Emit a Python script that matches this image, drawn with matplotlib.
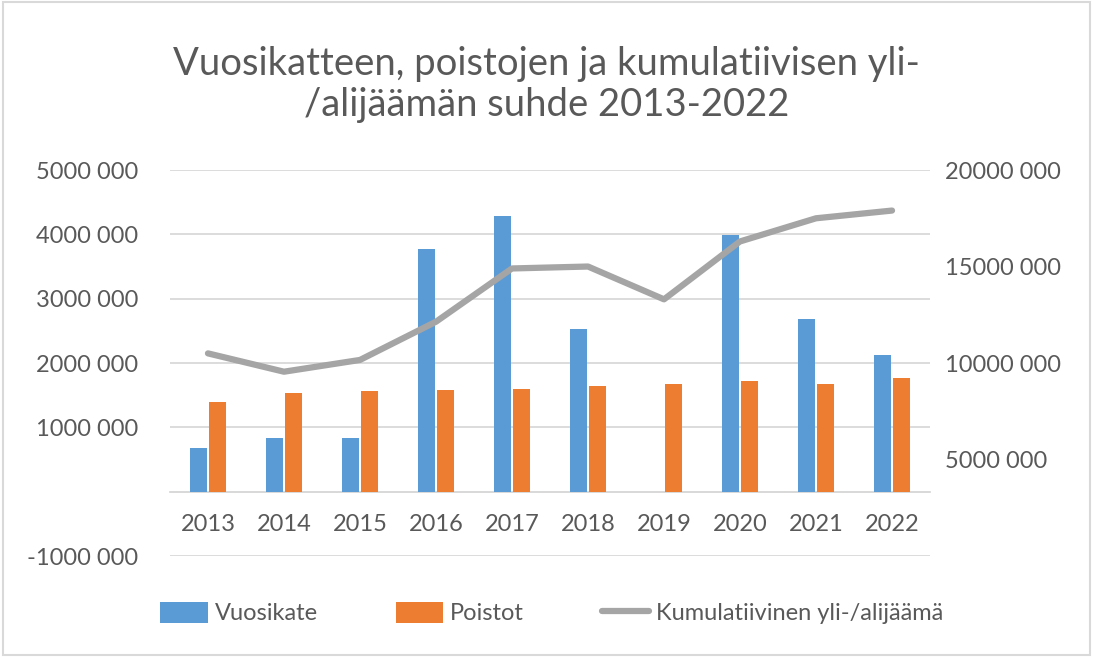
import numpy as np
import matplotlib.pyplot as plt
from matplotlib.ticker import FuncFormatter, MultipleLocator

# Data
years = ["2013", "2014", "2015", "2016", "2017", "2018", "2019", "2020", "2021", "2022"]
vuosikate = [680000, 830000, 830000, 3770000, 4280000, 2530000, 0, 3990000, 2680000, 2120000]
poistot = [1400000, 1530000, 1560000, 1580000, 1600000, 1650000, 1670000, 1720000, 1670000, 1760000]
kumulatiivinen = [10500000, 9550000, 10160000, 12140000, 14900000, 15000000, 13300000,
                  16300000, 17500000, 17900000]

text_col = "#595959"
plt.rcParams["font.family"] = ["Lato", "DejaVu Sans"]


def fmt(v, pos):
    v = int(round(v))
    if v == 0:
        return ""
    sign = "-" if v < 0 else ""
    v = abs(v)
    return f"{sign}{v // 1000} {v % 1000:03d}"


fig = plt.figure(figsize=(10.93, 6.57), dpi=100)
ax = fig.add_axes([0.1555, 0.1537, 0.6954, 0.5875])
ax2 = ax.twinx()

x = np.arange(len(years))
w = 0.225
ax.bar(x - w / 2 - 0.012, vuosikate, w, color="#5b9bd5", label="Vuosikate", zorder=3)
ax.bar(x + w / 2 + 0.012, poistot, w, color="#ed7d31", label="Poistot", zorder=3)
ax2.plot(x, kumulatiivinen, color="#a5a5a5", lw=4.5, solid_capstyle="round",
         label="Kumulatiivinen yli-/alijäämä", zorder=4)

ax.set_xlim(-0.5, len(years) - 0.5)
ax.set_ylim(-1000000, 5000000)
ax2.set_ylim(0, 20000000)
ax.yaxis.set_major_locator(MultipleLocator(1000000))
ax2.yaxis.set_major_locator(MultipleLocator(5000000))
ax.yaxis.set_major_formatter(FuncFormatter(fmt))
ax2.yaxis.set_major_formatter(FuncFormatter(fmt))

ax.grid(axis="y", color="#d9d9d9", lw=1.3, zorder=0)
for a in (ax, ax2):
    for s in ("top", "left", "right", "bottom"):
        a.spines[s].set_visible(False)
    a.tick_params(length=0, labelsize=17, labelcolor=text_col)
ax.spines["bottom"].set_visible(True)
ax.spines["bottom"].set_position(("data", 0))
ax.spines["bottom"].set_color("#d9d9d9")
ax.spines["bottom"].set_linewidth(1.3)
ax.set_xticks(x)
ax.set_xticklabels(years)
ax.tick_params(axis="x", pad=16)
ax.tick_params(axis="y", pad=23)
ax2.tick_params(axis="y", pad=11)

fig.text(0.5, 0.871, "Vuosikatteen, poistojen ja kumulatiivisen yli-\n/alijäämän suhde 2013-2022",
         ha="center", va="center", fontsize=27.5, color=text_col, linespacing=1.18)

h1, l1 = ax.get_legend_handles_labels()
h2, l2 = ax2.get_legend_handles_labels()
fig.legend(h1 + h2, l1 + l2, loc="center", bbox_to_anchor=(0.505, 0.067), ncol=3,
           frameon=False, fontsize=17, labelcolor=text_col, handlelength=2.0,
           handleheight=1.0, handletextpad=0.3, columnspacing=3.3)

fig.patches.append(plt.Rectangle((0.003, 0.003), 0.994, 0.994, transform=fig.transFigure,
                                 fill=False, edgecolor="#d9d9d9", lw=1.5))

plt.savefig("out.png", dpi=100)
